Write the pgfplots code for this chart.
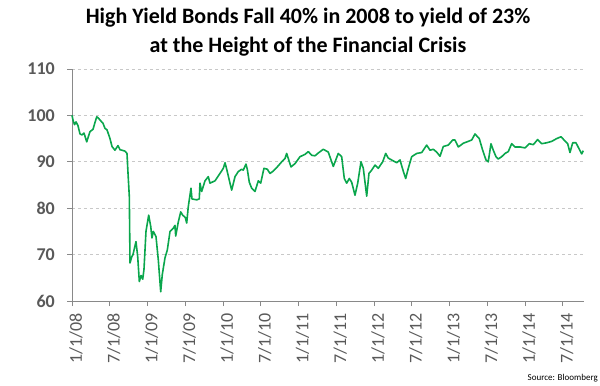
\documentclass[border=0pt]{standalone}
\usepackage{pgfplots}
\pgfplotsset{compat=1.18}
\usepackage{fontspec}
\setmainfont{Carlito}
\definecolor{hygreen}{RGB}{10,166,76}
\definecolor{ticktext}{RGB}{89,89,89}
\definecolor{axisgray}{RGB}{137,137,137}
\definecolor{gridgray}{RGB}{200,200,200}
\begin{document}
\begin{tikzpicture}[x=1bp,y=1bp]
\path[use as bounding box] (0,0) rectangle (600,385);
\begin{axis}[
  at={(72bp,84bp)}, anchor=south west,
  scale only axis, width=511.5bp, height=232bp,
  xmin=0, xmax=81.3, ymin=60, ymax=110,
  axis lines=left, axis line style={draw=axisgray, line width=0.8bp, -},
  xtick={0,6,...,78},
  xticklabels={1/1/08,7/1/08,1/1/09,7/1/09,1/1/10,7/1/10,1/1/11,7/1/11,1/1/12,7/1/12,1/1/13,7/1/13,1/1/14,7/1/14},
  ytick={60,70,...,110},
  tick align=outside, major tick length=5bp,
  tick style={draw=axisgray, line width=0.8bp},
  ymajorgrids, grid style={draw=gridgray, dashed, line width=0.7bp},
  xticklabel style={rotate=90, anchor=east, text=ticktext, font=\fontsize{18bp}{20bp}\selectfont, inner sep=1bp, xshift=-6bp, yshift=-4bp},
  yticklabel style={anchor=east, text=ticktext, font=\bfseries\fontsize{18bp}{20bp}\selectfont, inner sep=1bp, xshift=-11bp},
  /pgf/number format/assume math mode=true,
  clip=false,
]
\addplot[hygreen, line width=1.6bp, line join=round] table {
x y
0 100
0.16 99
0.40 98
0.64 98.6
0.95 97.8
1.27 96
1.59 95.8
1.91 96.2
2.34 94.3
2.62 95.5
2.86 96.5
3.34 97
3.66 98.5
3.93 99.7
4.21 99.4
4.45 99
4.93 98.3
5.24 97.2
5.56 96.9
6.04 95
6.36 93.3
6.83 92.5
7.31 93.5
7.63 92.6
7.95 92.5
8.42 92.3
8.74 91.8
8.90 87.6
9.11 82.5
9.22 68.2
9.49 69.5
9.69 70
10.17 72.8
10.44 69.6
10.70 64.2
10.97 65.5
11.24 64.7
11.44 66.8
11.76 75
12.19 78.5
12.51 76.1
12.71 73.6
12.92 75
13.35 73.9
13.72 68.8
14.10 62
14.35 65.7
14.78 69.3
15.15 71
15.58 75
16.10 75.7
16.37 76.3
16.48 74
16.89 77
17.28 79.2
17.59 78.5
18.01 78
18.23 76.8
18.48 80.3
18.91 84.3
19.07 82
19.82 81.8
20.23 82
20.34 85.4
20.61 83.6
21.14 85.9
21.66 86.8
21.93 85.4
22.73 85.9
23.52 87.5
24.05 88.6
24.32 89.8
24.59 88.4
25.11 85.4
25.38 83.9
25.91 86.8
26.43 87.9
26.97 88.4
27.22 88.2
27.65 89.5
27.86 88.4
28.18 85.6
28.56 84.3
29.08 83.6
29.61 85.9
29.99 85.4
30.51 88.6
31.04 88.4
31.47 87.5
31.90 87.9
32.63 88.9
33.33 90
33.85 90.7
34.12 91.8
34.54 90
34.81 88.9
35.44 89.6
36.24 91.1
37.03 91.6
37.56 92.2
38.10 91.4
38.62 91.3
39.15 91.9
39.94 92.7
40.73 92.1
41.53 89
42.32 91.8
42.86 91.1
43.28 86.4
43.66 85.4
44.07 86.4
44.45 85.6
44.98 82.8
45.41 85.4
45.93 90
46.30 88.6
46.84 82.6
47.20 87.5
47.63 88.2
48.16 89.3
48.68 88.6
49.38 90
49.86 91.8
50.27 90.8
51.06 90.2
51.61 89.8
52.13 90.4
52.65 88
53.04 86.4
53.45 88.6
53.99 91.1
54.78 91.8
55.58 92
56.37 93.6
56.90 92.5
57.42 92.7
57.96 92.1
58.49 91.2
59.01 93.3
59.81 93.6
60.51 94.7
60.87 94.7
61.40 93.2
62.19 94
62.98 94.4
63.53 94.7
64.05 96
64.73 95
65.27 92.5
65.80 90.4
66.16 90
66.59 93.9
66.96 92.5
67.39 91.1
67.75 90.6
68.29 91.1
68.82 91.8
69.34 92.2
69.88 93.9
70.41 93.2
71.20 93.2
72.00 93
72.68 93.9
73.32 93.7
74.01 94.8
74.65 93.9
75.44 94.1
76.24 94.4
77.03 95
77.72 95.4
78.35 94.5
78.78 93.9
79.15 92
79.58 94.1
80.10 94.1
80.63 92.7
81.01 91.7
81.26 92.4
};
\end{axis}
\node[align=center, font=\bfseries\fontsize{22bp}{29bp}\selectfont, anchor=north, inner sep=0pt] at (308,377) {High Yield Bonds Fall 40\% in 2008 to yield of 23\%\\at the Height of the Financial Crisis};
\node[anchor=base east, font=\fontsize{9bp}{10bp}\selectfont, inner sep=0pt] at (598,5) {Source: Bloomberg};
\end{tikzpicture}
\end{document}
